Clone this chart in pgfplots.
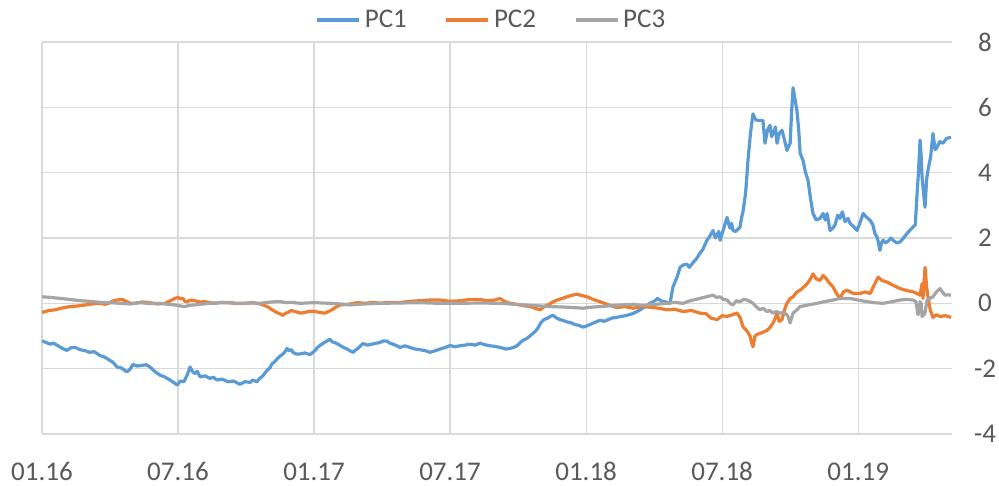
\documentclass[border=0pt]{standalone}
\usepackage{pgfplots}
\pgfplotsset{compat=1.18}
\usepackage{fontspec}
\setmainfont{Carlito}
\definecolor{pcblue}{HTML}{5B9BD5}
\definecolor{pcorange}{HTML}{ED7D31}
\definecolor{pcgray}{HTML}{A5A5A5}
\definecolor{gridc}{HTML}{D9D9D9}
\definecolor{txt}{HTML}{595959}
\begin{document}
\begin{tikzpicture}
\begin{axis}[
 name=ax,
 scale only axis,
 width=455bp, height=196bp,
 xmin=0, xmax=40.14,
 ymin=-4, ymax=8,
 xtick={0,6,12,18,24,30,36},
 xticklabels={01.16,07.16,01.17,07.17,01.18,07.18,01.19},
 ytick={-4,-2,0,2,4,6,8},
 yticklabel pos=right,
 grid=major,
 major grid style={draw=gridc, line width=0.6bp},
 axis line style={draw=none},
 major tick length=0pt,
 tick style={draw=none},
 font=\fontsize{13.5bp}{16bp}\selectfont,
 ticklabel style={text=txt, font=\fontsize{13.5bp}{16bp}\selectfont},
 /pgf/number format/assume math mode=true,
 xticklabel style={anchor=center, yshift=-18.75bp},
 yticklabel style={anchor=center, xshift=16.5bp},
 legend columns=3,
 legend style={draw=none, fill=none, at={(0.495,1)}, anchor=center, yshift=11bp,
   text=txt, font=\fontsize{13.5bp}{16bp}\selectfont,
   /tikz/every even column/.append style={column sep=17bp}},
 legend image code/.code={\draw[#1] (0bp,0bp) -- (21bp,0bp);},
 every axis plot/.append style={line width=1.6bp, line join=round},
]
\addplot[pcblue] coordinates {
(0,-1.15)(0.18,-1.2)(0.35,-1.25)(0.5,-1.22)(0.71,-1.3)(0.9,-1.38)(1.10,-1.44)(1.28,-1.36)
(1.46,-1.35)(1.68,-1.42)(1.90,-1.45)(2.1,-1.5)(2.3,-1.48)(2.56,-1.6)(2.78,-1.65)(3.00,-1.75)
(3.15,-1.82)(3.31,-1.95)(3.5,-1.98)(3.75,-2.1)(3.88,-2.02)(4.01,-1.87)(4.2,-1.92)(4.41,-1.9)
(4.6,-1.88)(4.76,-1.95)(5.0,-2.1)(5.21,-2.2)(5.4,-2.25)(5.65,-2.35)(5.8,-2.42)(5.96,-2.5)
(6.1,-2.38)(6.26,-2.4)(6.4,-2.2)(6.53,-1.95)(6.65,-2.1)(6.75,-2.15)(6.85,-2.08)(6.97,-2.25)
(7.2,-2.22)(7.41,-2.3)(7.55,-2.26)(7.72,-2.35)(7.95,-2.32)(8.20,-2.4)(8.45,-2.38)(8.73,-2.48)
(8.95,-2.4)(9.18,-2.42)(9.3,-2.35)(9.48,-2.4)(9.6,-2.3)(9.70,-2.25)(9.82,-2.15)(9.93,-2.05)
(10.05,-1.98)(10.15,-1.85)(10.25,-1.8)(10.37,-1.7)(10.5,-1.62)(10.63,-1.55)(10.72,-1.48)(10.81,-1.38)
(10.9,-1.45)(11.0,-1.42)(11.07,-1.5)(11.2,-1.55)(11.38,-1.55)(11.6,-1.52)(11.82,-1.57)(11.95,-1.5)
(12.04,-1.45)(12.15,-1.35)(12.26,-1.29)(12.45,-1.2)(12.58,-1.15)(12.70,-1.1)(12.8,-1.18)(12.92,-1.2)
(13.05,-1.25)(13.15,-1.29)(13.3,-1.35)(13.46,-1.4)(13.6,-1.46)(13.72,-1.5)(13.85,-1.42)(13.94,-1.38)
(14.05,-1.3)(14.16,-1.23)(14.35,-1.28)(14.56,-1.25)(14.75,-1.22)(14.91,-1.2)(15.05,-1.15)(15.22,-1.16)
(15.35,-1.22)(15.48,-1.25)(15.65,-1.3)(15.79,-1.35)(16.0,-1.3)(16.23,-1.35)(16.45,-1.4)(16.67,-1.42)
(16.9,-1.45)(17.12,-1.5)(17.35,-1.45)(17.56,-1.4)(17.8,-1.35)(18.00,-1.29)(18.2,-1.33)(18.44,-1.3)
(18.65,-1.28)(18.88,-1.25)(19.1,-1.28)(19.32,-1.22)(19.55,-1.27)(19.76,-1.3)(20.0,-1.32)(20.20,-1.35)
(20.45,-1.4)(20.64,-1.38)(20.8,-1.35)(20.95,-1.3)(21.1,-1.2)(21.22,-1.13)(21.33,-1.1)(21.44,-1.05)
(21.55,-0.98)(21.66,-0.92)(21.77,-0.85)(21.88,-0.75)(22.0,-0.6)(22.10,-0.52)(22.2,-0.48)(22.32,-0.45)
(22.42,-0.4)(22.54,-0.37)(22.7,-0.45)(22.85,-0.5)(23.0,-0.53)(23.16,-0.57)(23.35,-0.6)(23.51,-0.65)
(23.7,-0.68)(23.86,-0.73)(24.0,-0.7)(24.17,-0.65)(24.4,-0.58)(24.61,-0.52)(24.8,-0.55)(24.97,-0.5)
(25.15,-0.45)(25.36,-0.43)(25.55,-0.4)(25.72,-0.38)(25.9,-0.35)(26.07,-0.31)(26.25,-0.25)(26.38,-0.2)
(26.6,-0.1)(26.82,0.0)(26.95,0.05)(27.04,0.08)(27.15,0.15)(27.26,0.1)(27.4,0.05)(27.48,0.05)
(27.6,0.02)(27.70,0.0)(27.83,0.5)(27.92,0.65)(28.01,0.8)(28.08,0.95)(28.14,1.1)(28.3,1.18)
(28.45,1.2)(28.55,1.1)(28.72,1.25)(28.85,1.35)(29.02,1.53)(29.15,1.65)(29.33,1.93)(29.45,2.05)
(29.60,2.23)(29.7,2.0)(29.78,2.1)(29.85,2.2)(29.91,1.93)(30.05,2.25)(30.22,2.63)(30.3,2.4)
(30.35,2.3)(30.42,2.45)(30.48,2.23)(30.6,2.2)(30.79,2.33)(30.85,2.6)(30.92,2.8)(31.01,3.24)
(31.05,3.5)(31.14,4.37)(31.25,5.2)(31.36,5.8)(31.45,5.65)(31.54,5.6)(31.65,5.6)(31.80,5.6)
(31.89,4.9)(32.0,5.3)(32.11,5.45)(32.18,5.1)(32.25,5.2)(32.35,5.4)(32.42,4.9)(32.52,5.2)
(32.64,5.3)(32.75,5.0)(32.86,4.68)(32.93,4.8)(33.00,4.9)(33.06,5.8)(33.13,6.6)(33.2,6.3)
(33.30,5.9)(33.38,5.3)(33.44,4.6)(33.57,4.37)(33.68,4.0)(33.79,3.76)(33.9,3.2)(34.01,2.75)
(34.15,2.55)(34.32,2.6)(34.45,2.75)(34.55,2.55)(34.63,2.75)(34.76,2.23)(34.88,2.3)(34.98,2.4)
(35.1,2.7)(35.20,2.6)(35.3,2.8)(35.42,2.5)(35.55,2.6)(35.64,2.45)(35.8,2.35)(35.95,2.23)
(36.1,2.5)(36.22,2.75)(36.35,2.65)(36.53,2.54)(36.65,2.4)(36.74,2.14)(36.85,2.0)(36.96,1.62)
(37.03,1.85)(37.10,1.93)(37.2,1.85)(37.32,1.9)(37.45,2.0)(37.54,1.93)(37.7,1.85)(37.85,1.88)
(38.0,2.0)(38.16,2.14)(38.3,2.25)(38.42,2.33)(38.52,2.4)(38.60,3.36)(38.66,4.0)(38.73,5.0)
(38.78,4.5)(38.82,3.86)(38.88,3.4)(38.95,2.94)(39.02,3.8)(39.08,4.07)(39.2,4.5)(39.30,5.2)
(39.4,4.7)(39.48,4.78)(39.6,4.95)(39.74,4.9)(39.9,5.05)(40.10,5.08)
};
\addlegendentry{PC1}
\addplot[pcorange] coordinates {
(0,-0.28)(0.3,-0.22)(0.57,-0.2)(0.9,-0.14)(1.24,-0.1)(1.6,-0.08)(1.90,-0.05)(2.2,-0.02)
(2.56,0.0)(2.8,-0.03)(3.00,0.02)(3.15,0.08)(3.31,0.1)(3.53,0.12)(3.65,0.08)(3.75,0.05)
(3.9,0.0)(4.10,0.0)(4.4,0.04)(4.76,0.02)(5.1,-0.02)(5.43,0.0)(5.6,0.06)(5.73,0.1)
(5.85,0.15)(6.00,0.18)(6.1,0.14)(6.22,0.15)(6.30,0.06)(6.40,0.05)(6.55,0.1)(6.75,0.08)
(6.95,0.04)(7.19,0.05)(7.4,0.02)(7.63,0.0)(7.9,0.03)(8.29,0.02)(8.6,-0.01)(8.95,0.0)
(9.3,0.02)(9.62,-0.02)(9.8,-0.06)(9.93,-0.1)(10.05,-0.15)(10.15,-0.2)(10.28,-0.25)(10.41,-0.3)
(10.52,-0.33)(10.63,-0.37)(10.75,-0.3)(10.85,-0.28)(11.0,-0.22)(11.16,-0.25)(11.4,-0.3)(11.60,-0.28)
(11.8,-0.24)(12.04,-0.25)(12.25,-0.28)(12.48,-0.3)(12.6,-0.26)(12.79,-0.2)(12.95,-0.12)(13.15,-0.05)
(13.35,-0.04)(13.59,-0.02)(13.9,0.02)(14.25,0.0)(14.6,0.03)(14.91,0.0)(15.3,0.03)(15.79,0.02)
(16.2,0.06)(16.67,0.08)(17.1,0.1)(17.56,0.1)(18.0,0.06)(18.44,0.08)(18.9,0.12)(19.32,0.12)
(19.6,0.08)(19.98,0.1)(20.20,0.15)(20.4,0.06)(20.64,0.0)(20.85,-0.02)(21.08,-0.05)(21.3,-0.08)
(21.53,-0.1)(21.75,-0.15)(21.97,-0.2)(22.15,-0.1)(22.32,-0.05)(22.5,0.03)(22.72,0.1)(22.95,0.15)
(23.16,0.2)(23.4,0.25)(23.60,0.28)(23.8,0.24)(24.04,0.2)(24.3,0.12)(24.61,0.05)(25.0,-0.05)
(25.36,-0.13)(25.7,-0.1)(26.07,-0.15)(26.45,-0.1)(26.82,-0.12)(27.2,-0.15)(27.57,-0.2)(27.9,-0.18)
(28.27,-0.25)(28.65,-0.22)(29.02,-0.3)(29.3,-0.32)(29.5,-0.45)(29.78,-0.5)(30.0,-0.38)(30.22,-0.4)
(30.45,-0.35)(30.66,-0.3)(30.8,-0.45)(30.92,-0.72)(31.1,-0.85)(31.23,-1.0)(31.3,-1.2)(31.36,-1.33)
(31.45,-1.0)(31.54,-0.95)(31.75,-0.9)(31.98,-0.83)(32.1,-0.75)(32.25,-0.6)(32.35,-0.45)(32.42,-0.3)
(32.52,-0.55)(32.64,-0.5)(32.75,-0.2)(32.86,0.0)(33.0,0.15)(33.13,0.2)(33.3,0.35)(33.44,0.4)
(33.6,0.5)(33.75,0.6)(33.9,0.75)(34.01,0.9)(34.15,0.75)(34.32,0.7)(34.45,0.85)(34.54,0.8)
(34.7,0.65)(34.89,0.5)(35.05,0.3)(35.20,0.15)(35.35,0.35)(35.51,0.4)(35.8,0.3)(36.08,0.3)
(36.3,0.35)(36.53,0.3)(36.7,0.55)(36.88,0.8)(37.05,0.7)(37.27,0.65)(37.55,0.55)(37.85,0.45)
(38.1,0.4)(38.42,0.35)(38.6,0.3)(38.73,0.25)(38.82,0.6)(38.86,0.15)(38.95,1.1)(39.02,0.5)
(39.08,0.2)(39.18,-0.2)(39.30,-0.43)(39.45,-0.35)(39.61,-0.4)(39.85,-0.38)(40.10,-0.43)
};
\addlegendentry{PC2}
\addplot[pcgray] coordinates {
(0,0.2)(0.4,0.18)(0.79,0.15)(1.2,0.12)(1.68,0.08)(2.1,0.06)(2.56,0.03)(3.0,0.02)
(3.44,0.0)(3.9,-0.02)(4.32,0.02)(4.8,-0.01)(5.21,0.0)(5.55,-0.03)(5.87,-0.05)(6.1,-0.08)
(6.31,-0.1)(6.5,-0.06)(6.75,-0.05)(7.1,-0.02)(7.41,0.0)(8.0,0.02)(8.73,0.0)(9.2,0.01)
(9.62,0.0)(9.95,0.03)(10.28,0.05)(10.5,0.06)(10.72,0.02)(11.0,0.03)(11.38,0.0)(12.0,0.02)
(12.70,0.0)(13.2,-0.02)(13.59,-0.05)(14.2,-0.02)(14.91,0.0)(15.8,0.01)(16.67,0.02)(17.5,0.0)
(18.44,0.0)(19.3,0.01)(20.20,0.0)(21.3,-0.05)(22.41,-0.1)(23.2,-0.12)(23.86,-0.15)(24.2,-0.12)
(24.61,-0.1)(25.3,-0.06)(26.07,-0.03)(26.45,-0.06)(26.82,-0.05)(27.2,-0.02)(27.57,0.0)(27.9,0.03)
(28.27,0.0)(28.6,0.08)(29.02,0.15)(29.3,0.2)(29.60,0.25)(29.75,0.18)(29.91,0.2)(30.05,0.12)
(30.22,0.1)(30.35,0.0)(30.48,-0.05)(30.62,0.08)(30.79,0.05)(30.95,0.12)(31.10,0.1)(31.25,0.05)
(31.36,0.0)(31.5,-0.1)(31.67,-0.2)(31.8,-0.15)(31.98,-0.25)(32.1,-0.22)(32.25,-0.3)(32.4,-0.25)
(32.55,-0.3)(32.7,-0.28)(32.86,-0.35)(32.93,-0.45)(33.00,-0.6)(33.06,-0.45)(33.13,-0.3)(33.3,-0.2)
(33.44,-0.1)(33.8,-0.05)(34.19,0.0)(34.5,0.05)(34.89,0.1)(35.2,0.15)(35.64,0.15)(36.0,0.1)
(36.39,0.05)(36.7,0.02)(37.10,0.0)(37.5,0.05)(37.85,0.1)(38.1,0.12)(38.42,0.1)(38.55,0.05)
(38.64,-0.35)(38.7,-0.2)(38.73,0.05)(38.78,0.0)(38.82,-0.4)(38.9,-0.35)(38.95,-0.3)(39.04,0.1)
(39.15,0.15)(39.30,0.2)(39.45,0.35)(39.61,0.45)(39.72,0.35)(39.83,0.25)(39.95,0.26)(40.10,0.25)
};
\addlegendentry{PC3}
\end{axis}
\pgfresetboundingbox
\path[use as bounding box] ([xshift=-21bp,yshift=-26bp]ax.south west) rectangle ([xshift=23.5bp,yshift=21bp]ax.north east);
\end{tikzpicture}
\end{document}
